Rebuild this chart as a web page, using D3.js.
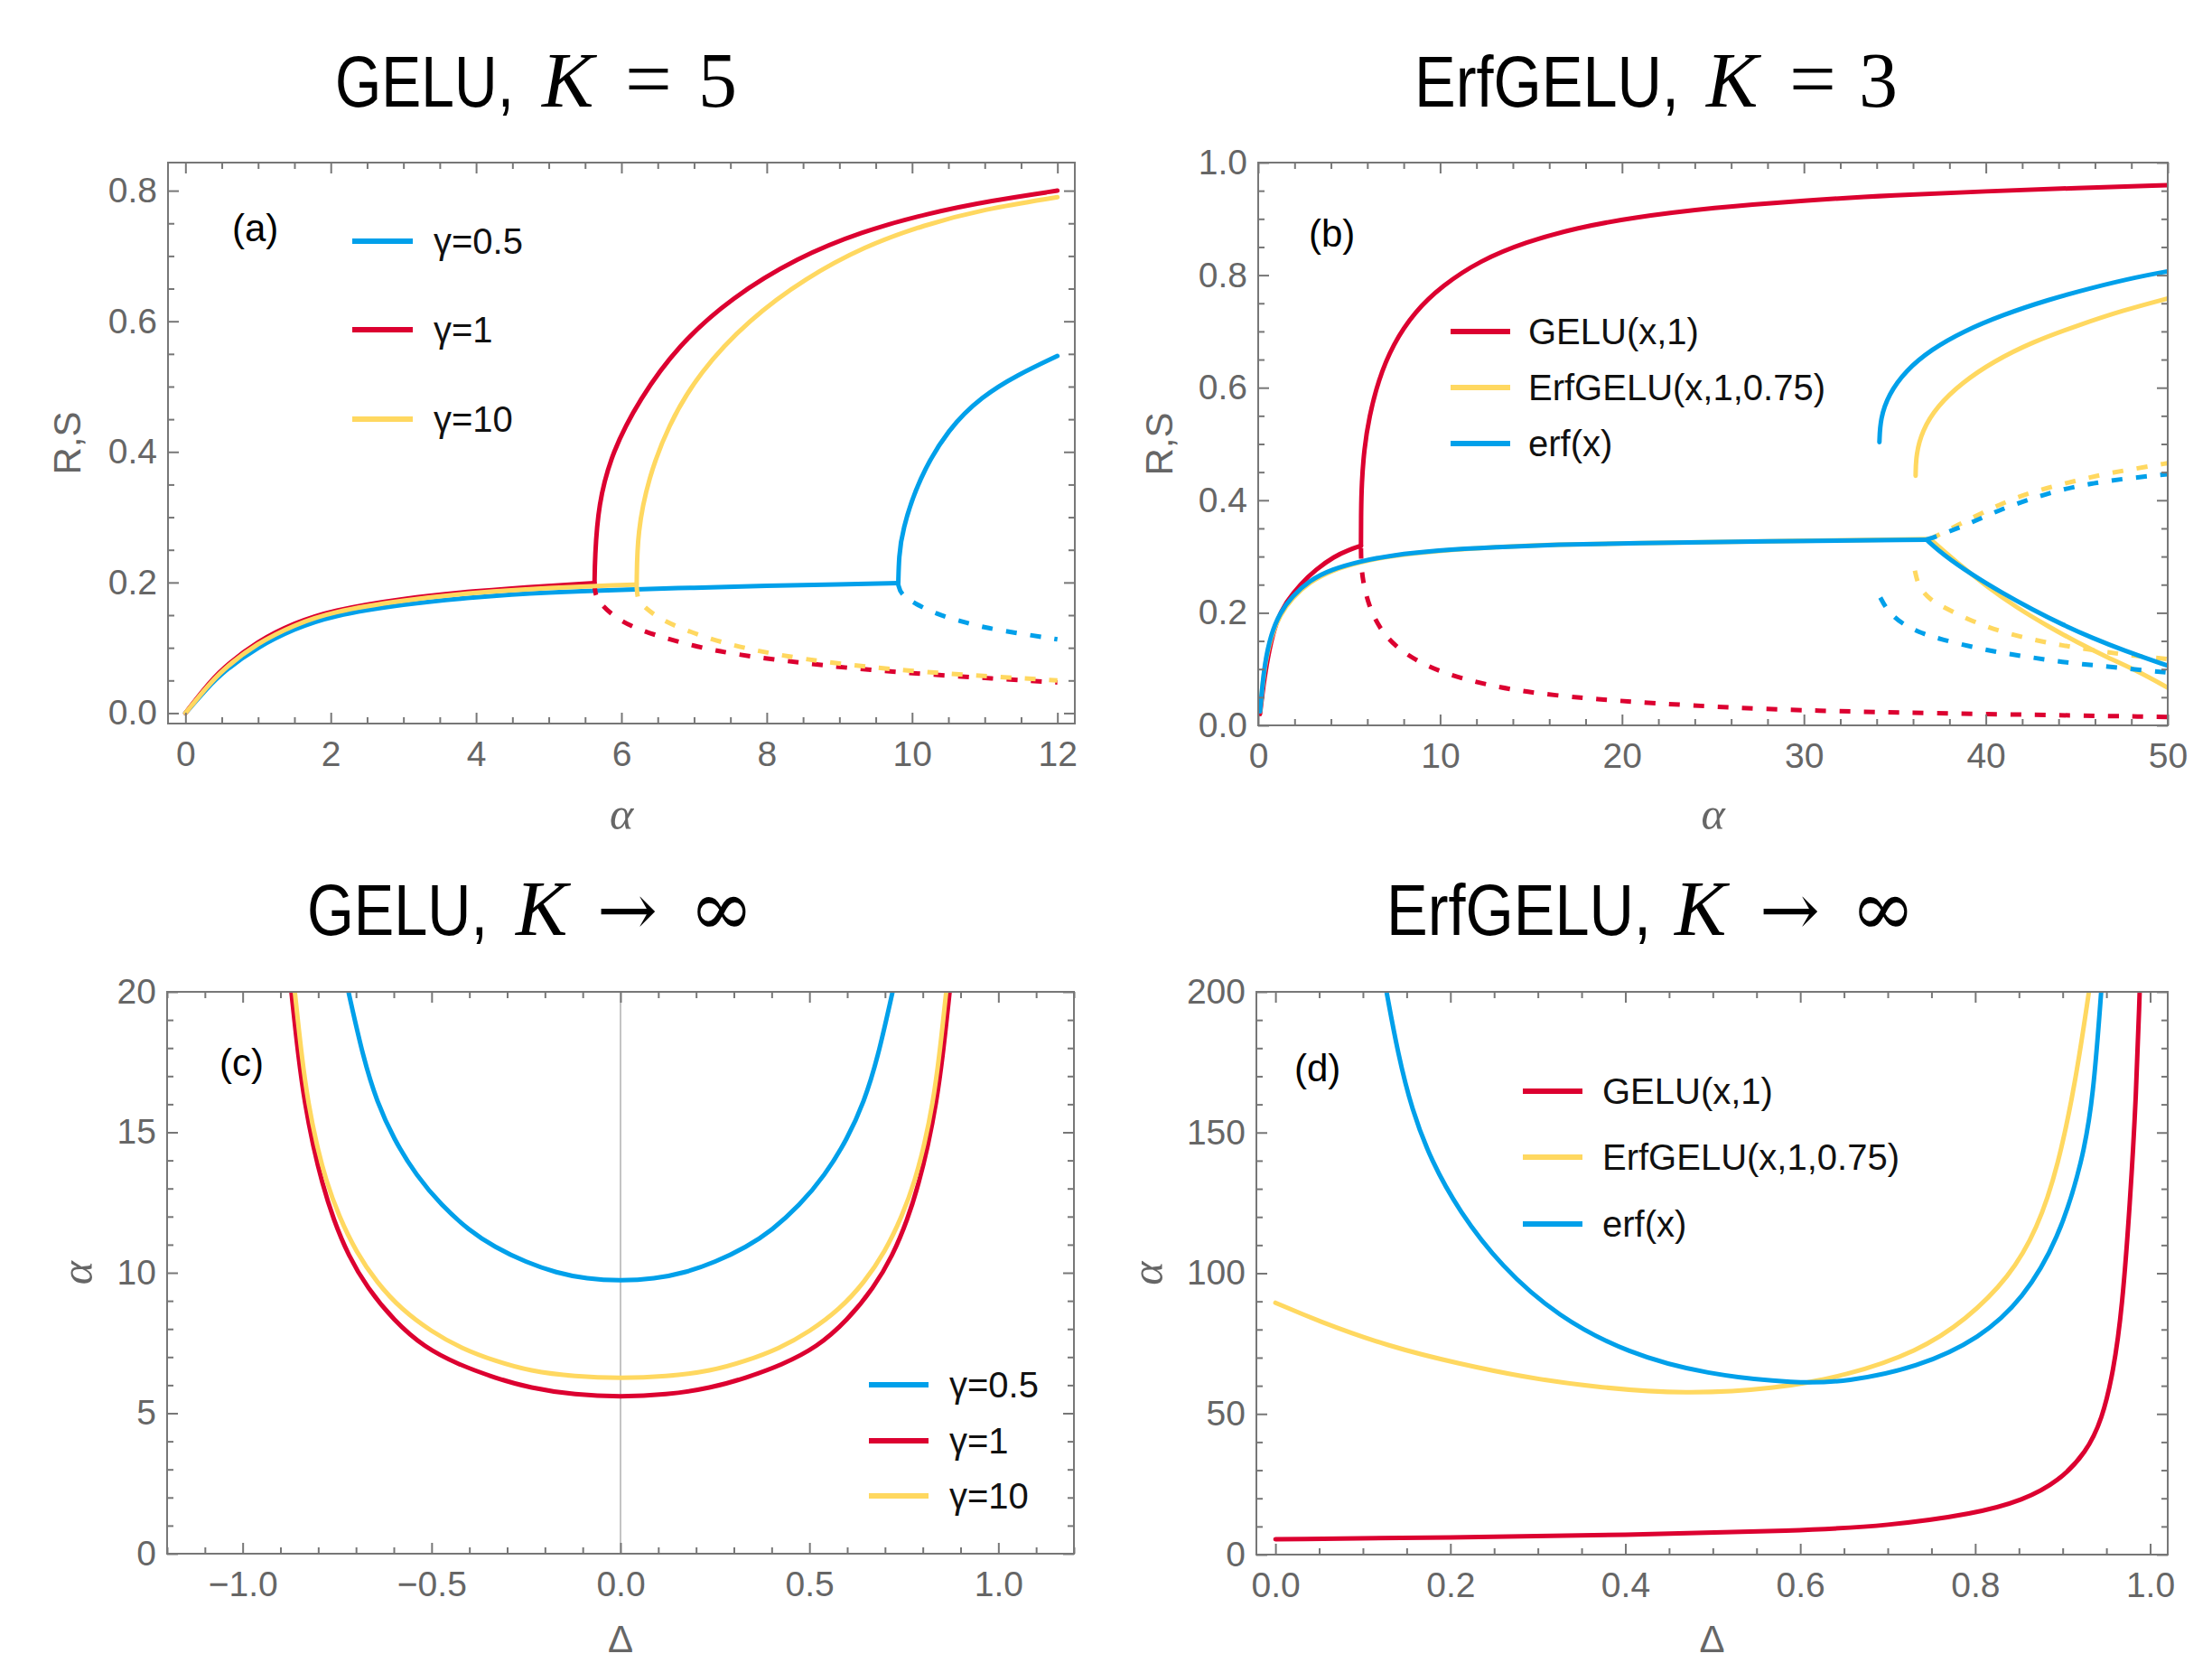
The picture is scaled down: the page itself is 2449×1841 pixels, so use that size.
<!DOCTYPE html>
<html>
<head>
<meta charset="utf-8">
<script src="https://cdn.jsdelivr.net/npm/d3@7"></script>
<style>
body { margin: 0; background: #fff; }
svg { display: block; background: #fff; }
.tick text { font-family: "Liberation Sans", Arial, sans-serif; font-size: 39px; fill: #666; }
.tick line { stroke: #777; stroke-width: 2; }
</style>
</head>
<body>
<svg id="fig" width="2449" height="1841"></svg>
<script>

// ---- colours
const cBlue = "#00a0ea", cRed = "#dc0030", cYellow = "#ffd860";

// ---- legend labels
const gammaLabels = ["γ=0.5", "γ=1", "γ=10"];
const actLabels = ["GELU(x,1)", "ErfGELU(x,1,0.75)", "erf(x)"];

// ---- tick values
const aXTicks = [0, 2, 4, 6, 8, 10, 12];
const aYTicks = [0, 0.2, 0.4, 0.6, 0.8];
const bXTicks = [0, 10, 20, 30, 40, 50];
const bYTicks = [0, 0.2, 0.4, 0.6, 0.8, 1.0];
const cXTicks = [-1, -0.5, 0, 0.5, 1];
const cYTicks = [0, 5, 10, 15, 20];
const dXTicks = [0, 0.2, 0.4, 0.6, 0.8, 1.0];
const dYTicks = [0, 50, 100, 150, 200];

// ---- (a) GELU, K=5 : [alpha, R]
const aBlueLow = [[0,0],[0.25,0.032],[0.5,0.062],[1,0.102],[1.5,0.129],[2,0.149],[3,0.167],[4,0.178],[5,0.185],[6,0.189],[7,0.192],[8,0.195],[9,0.197],[9.81,0.199]];
const aBlueUp = [[9.81,0.199],[9.82,0.24],[9.86,0.278],[10.09,0.359],[10.5,0.436],[10.96,0.485],[11.45,0.518],[12,0.547]];
const aBlueDash = [[9.81,0.197],[9.84,0.182],[10.05,0.167],[10.33,0.152],[10.67,0.1405],[11.0,0.131],[11.38,0.1235],[12,0.113]];
const aRedLow = [[0,0],[0.25,0.036],[0.5,0.068],[1,0.111],[1.5,0.138],[2,0.157],[3,0.176],[4,0.187],[5,0.195],[5.63,0.199]];
const aRedUp = [[5.63,0.199],[5.635,0.237],[5.68,0.319],[5.87,0.40],[6.25,0.481],[6.78,0.563],[7.51,0.636],[8.43,0.698],[9.3,0.737],[10.2,0.765],[11.1,0.785],[12,0.80]];
const aRedDash = [[5.63,0.197],[5.64,0.182],[5.69,0.17],[5.9,0.147],[6.19,0.13],[6.52,0.1175],[7.05,0.101],[7.57,0.09],[8.24,0.08],[9.19,0.068],[10.14,0.06],[11.1,0.053],[12,0.047]];
const aYellowLow = [[0,0],[0.25,0.034],[0.5,0.066],[1,0.108],[1.5,0.135],[2,0.155],[3,0.173],[4,0.185],[5,0.192],[6,0.196],[6.21,0.197]];
const aYellowUp = [[6.21,0.197],[6.22,0.278],[6.37,0.359],[6.64,0.44],[7.07,0.522],[7.76,0.603],[8.53,0.666],[9.35,0.715],[10.15,0.747],[11.0,0.772],[12,0.79]];
const aYellowDash = [[6.21,0.195],[6.22,0.174],[6.29,0.165],[6.52,0.144],[6.9,0.126],[7.43,0.106],[8.14,0.089],[8.95,0.076],[9.9,0.065],[11.1,0.056],[12,0.05]];

// ---- (b) ErfGELU, K=3 : [alpha, R]
const bRedLow = [[0.1,0.02],[0.3,0.075],[0.6,0.135],[1.0,0.185],[1.52,0.219],[2.35,0.252],[3.17,0.277],[4.17,0.30],[5.0,0.312],[5.65,0.319]];
const bRedUp = [[5.65,0.319],[5.655,0.38],[5.69,0.43],[5.82,0.49],[6.1,0.548],[6.6,0.613],[7.4,0.677],[8.6,0.735],[10.1,0.781],[12.2,0.826],[14.7,0.859],[17.5,0.884],[20.5,0.902],[25,0.92],[30,0.933],[35,0.942],[40,0.949],[45,0.955],[50,0.96]];
const bRedDash = [[5.65,0.315],[5.66,0.29],[5.74,0.258],[6.07,0.213],[6.64,0.174],[7.47,0.142],[8.63,0.116],[10.1,0.0935],[12.26,0.074],[14.7,0.059],[18.0,0.048],[20.5,0.042],[25,0.033],[30,0.026],[40,0.02],[50,0.015]];
const bYellowLow = [[0.1,0.025],[0.2,0.058],[0.36,0.106],[0.69,0.157],[1.19,0.196],[1.85,0.226],[2.84,0.255],[4.0,0.275],[5.65,0.291],[7.3,0.301],[9.79,0.31],[13.1,0.317],[16.4,0.321],[20.5,0.324],[27.7,0.327],[36.94,0.331]];
const bYellowDown = [[36.94,0.331],[38.43,0.2887],[40.08,0.246],[41.73,0.2086],[43.39,0.1766],[45.04,0.1471],[46.7,0.1205],[48.36,0.0965],[50,0.067]];
const bYellowUp = [[36.14,0.4436],[36.16,0.481],[36.5,0.5237],[37.3,0.5664],[38.7,0.6092],[40.41,0.6465],[42.56,0.6813],[45.04,0.7106],[47.53,0.7374],[50,0.7587]];
const bYellowDashUp = [[36.94,0.331],[38.43,0.3554],[40.08,0.3822],[41.73,0.4062],[43.39,0.4222],[45.04,0.4355],[46.7,0.4478],[48.36,0.4569],[50,0.466]];
const bYellowDashLow = [[36.1,0.275],[36.3,0.245],[37.0,0.222],[37.6,0.2112],[39.25,0.1846],[40.9,0.1658],[42.56,0.1525],[44.2,0.1418],[45.87,0.1338],[47.53,0.1258],[50,0.1178]];
const bBlueLow = [[0.1,0.025],[0.2,0.06],[0.36,0.11],[0.69,0.161],[1.19,0.2],[1.85,0.229],[2.84,0.258],[4.0,0.277],[5.65,0.292],[7.3,0.302],[9.79,0.311],[13.1,0.317],[16.4,0.321],[20.5,0.324],[27.7,0.327],[36.74,0.33]];
const bBlueDown = [[36.74,0.33],[37.6,0.3047],[39.25,0.2673],[40.9,0.2353],[42.56,0.2059],[44.2,0.1791],[45.87,0.1551],[47.53,0.1338],[50,0.106]];
const bBlueUp = [[34.15,0.5034],[34.2,0.545],[34.65,0.588],[35.6,0.6305],[37.0,0.668],[38.75,0.70],[40.91,0.7293],[43.39,0.756],[45.87,0.778],[48.36,0.797],[50,0.8068]];
const bBlueDashUp = [[36.74,0.33],[37.6,0.3394],[39.25,0.3608],[40.9,0.3849],[42.56,0.4035],[44.2,0.4195],[45.87,0.4302],[47.53,0.4382],[50,0.4462]];
const bBlueDashLow = [[34.2,0.2272],[34.6,0.203],[35.4,0.18],[36.5,0.163],[37.6,0.1525],[39.25,0.1391],[40.9,0.1285],[42.56,0.1205],[44.2,0.1125],[45.87,0.107],[47.53,0.1017],[50,0.0937]];

// ---- (c) GELU, K -> inf : [Delta, alpha]
const cBlue_ = [[-0.72,20],[-0.68,17.6],[-0.645,16.1],[-0.6,14.75],[-0.54,13.45],[-0.474,12.4],[-0.4,11.5],[-0.334,10.92],[-0.25,10.37],[-0.17,10.0],[-0.09,9.78],[0,9.71],[0.09,9.78],[0.17,10.0],[0.25,10.37],[0.334,10.92],[0.4,11.5],[0.474,12.4],[0.54,13.45],[0.6,14.75],[0.645,16.1],[0.68,17.6],[0.72,20]];
const cRed_ = [[-0.871,20],[-0.852,17.6],[-0.835,16.0],[-0.815,14.6],[-0.79,13.2],[-0.76,11.9],[-0.72,10.6],[-0.67,9.46],[-0.6,8.3],[-0.52,7.35],[-0.427,6.72],[-0.33,6.25],[-0.24,5.9],[-0.12,5.65],[0,5.58],[0.12,5.65],[0.24,5.9],[0.33,6.25],[0.427,6.72],[0.52,7.35],[0.6,8.3],[0.67,9.46],[0.72,10.6],[0.76,11.9],[0.79,13.2],[0.815,14.6],[0.835,16.0],[0.852,17.6],[0.871,20]];
const cYellow_ = [[-0.862,20],[-0.843,17.6],[-0.826,16.0],[-0.805,14.6],[-0.78,13.3],[-0.745,12.0],[-0.7,10.75],[-0.645,9.65],[-0.58,8.7],[-0.5,7.9],[-0.42,7.3],[-0.33,6.85],[-0.24,6.5],[-0.12,6.3],[0,6.24],[0.12,6.3],[0.24,6.5],[0.33,6.85],[0.42,7.3],[0.5,7.9],[0.58,8.7],[0.645,9.65],[0.7,10.75],[0.745,12.0],[0.78,13.3],[0.805,14.6],[0.826,16.0],[0.843,17.6],[0.862,20]];

// ---- (d) ErfGELU, K -> inf : [Delta, alpha]
const dRed_ = [[0,5.48],[0.2,6.0],[0.4,7.0],[0.6,8.5],[0.7,10.2],[0.8,14.5],[0.855,19.3],[0.895,25.9],[0.927,36.3],[0.945,48],[0.958,65],[0.968,87.3],[0.977,125],[0.984,162.8],[0.988,200]];
const dYellow_ = [[0,89.5],[0.048,83.1],[0.129,74.0],[0.21,67.8],[0.29,62.7],[0.371,59.3],[0.468,57.0],[0.573,58.9],[0.653,63.6],[0.734,72.1],[0.79,83.5],[0.839,98.6],[0.871,115.6],[0.895,138.2],[0.915,168.5],[0.93,200]];
const dBlue_ = [[0.127,200],[0.14,178],[0.156,158],[0.178,140],[0.21,122],[0.258,102.4],[0.323,84.5],[0.403,71.5],[0.492,64.0],[0.597,60.8],[0.653,61.4],[0.734,66.5],[0.806,76.9],[0.855,91.0],[0.895,111.8],[0.923,140.1],[0.935,162.8],[0.944,200]];

const svg = d3.select("#fig");
const sans = "'Liberation Sans', Arial, sans-serif";
const serifIt = "'Liberation Serif', serif";

function minorTicks(dom, step, majors) {
    let lo = Math.ceil(dom[0] / step - 1e-9), hi = Math.floor(dom[1] / step + 1e-9);
    return d3.range(lo, hi + 1).map(i => i * step)
        .filter(v => !majors.some(m => Math.abs(m - v) < step / 10));
}

function panel(p) {
    let g = svg.append("g");
    let x = d3.scaleLinear().domain(p.xd).range([p.l, p.r]);
    let y = d3.scaleLinear().domain(p.yd).range([p.b, p.t]);

    // clip to the frame
    svg.append("clipPath").attr("id", "clip" + p.name)
        .append("rect").attr("x", p.l).attr("y", p.t)
        .attr("width", p.r - p.l).attr("height", p.b - p.t);

    if (p.zeroLine) {
        g.append("line")
            .attr("x1", x(0)).attr("x2", x(0)).attr("y1", p.t).attr("y2", p.b)
            .attr("stroke", "#b0b0b0").attr("stroke-width", 1.5);
    }

    let line = d3.line()
        .x(d => x(d[0])).y(d => y(d[1]))
        .curve(d3.curveBasis);

    p.series.forEach(s => {
        g.append("path")
            .attr("d", line(s.pts))
            .attr("fill", "none")
            .attr("stroke", s.color)
            .attr("stroke-width", 5)
            .attr("stroke-linecap", s.dash ? "butt" : "round")
            .attr("stroke-linejoin", "round")
            .attr("stroke-dasharray", s.dash ? "12 15" : null)
            .attr("clip-path", "url(#clip" + p.name + ")");
    });

    let xMinor = minorTicks(p.xd, p.xm, p.xt);
    let yMinor = minorTicks(p.yd, p.ym, p.yt);
    let noDomain = a => a.select(".domain").remove();

    // bottom
    g.append("g").attr("transform", `translate(0,${p.b})`)
        .call(d3.axisBottom(x).tickValues(p.xt).tickFormat(p.xf).tickSize(-12).tickPadding(19)).call(noDomain);
    g.append("g").attr("transform", `translate(0,${p.b})`)
        .call(d3.axisBottom(x).tickValues(xMinor).tickFormat("").tickSize(-7)).call(noDomain);
    // top
    g.append("g").attr("transform", `translate(0,${p.t})`)
        .call(d3.axisTop(x).tickValues(p.xt).tickFormat("").tickSize(-12)).call(noDomain);
    g.append("g").attr("transform", `translate(0,${p.t})`)
        .call(d3.axisTop(x).tickValues(xMinor).tickFormat("").tickSize(-7)).call(noDomain);
    // left
    g.append("g").attr("transform", `translate(${p.l},0)`)
        .call(d3.axisLeft(y).tickValues(p.yt).tickFormat(p.yf).tickSize(-12).tickPadding(12)).call(noDomain);
    g.append("g").attr("transform", `translate(${p.l},0)`)
        .call(d3.axisLeft(y).tickValues(yMinor).tickFormat("").tickSize(-7)).call(noDomain);
    // right
    g.append("g").attr("transform", `translate(${p.r},0)`)
        .call(d3.axisRight(y).tickValues(p.yt).tickFormat("").tickSize(-12)).call(noDomain);
    g.append("g").attr("transform", `translate(${p.r},0)`)
        .call(d3.axisRight(y).tickValues(yMinor).tickFormat("").tickSize(-7)).call(noDomain);

    // frame
    g.append("rect")
        .attr("x", p.l).attr("y", p.t)
        .attr("width", p.r - p.l).attr("height", p.b - p.t)
        .attr("fill", "none").attr("stroke", "#777").attr("stroke-width", 2);

    // panel letter
    g.append("text").text(p.letter)
        .attr("x", p.lx).attr("y", p.ly)
        .attr("dy", "0.35em")
        .style("font-family", sans).style("font-size", "42px").attr("fill", "#000");

    // legend
    p.legend.forEach((e, i) => {
        let yy = p.leg.ys[i];
        g.append("line")
            .attr("x1", p.leg.x1).attr("x2", p.leg.x2).attr("y1", yy).attr("y2", yy)
            .attr("stroke", e.color).attr("stroke-width", 6);
        g.append("text").text(e.label)
            .attr("x", p.leg.tx).attr("y", yy).attr("dy", "0.35em")
            .style("font-family", sans).style("font-size", "40px").attr("fill", "#111");
    });

    // axis labels
    g.append("text").text(p.xlab)
        .attr("x", (p.r + p.l) / 2).attr("y", p.xlabY)
        .attr("text-anchor", "middle")
        .style("font-family", p.xlabFont).style("font-style", p.xlabStyle).style("font-size", p.xlabSize)
        .attr("fill", "#666");
    g.append("text").text(p.ylab)
        .attr("transform", `translate(${p.ylabX},${(p.t + p.b) / 2}) rotate(-90)`)
        .attr("text-anchor", "middle")
        .style("font-family", p.ylabFont).style("font-style", p.ylabStyle).style("font-size", p.ylabSize)
        .attr("fill", "#666");
}

// title: sans word squeezed to the measured width, math parts in serif
function title(y, parts) {
    parts.forEach(pt => {
        let t = svg.append("text").text(pt.t).attr("fill", "#000").style("font-size", pt.size + "px");
        if (pt.f === "sans") {
            t.style("font-family", sans);
            let k = pt.w / t.node().getComputedTextLength();
            t.attr("transform", `translate(${pt.x},${y}) scale(${k},1)`);
            return;
        }
        t.attr("x", pt.x).attr("y", y);
        if (pt.f === "it") {
            t.style("font-family", serifIt).style("font-style", "italic");
        } else if (pt.f === "sym") {
            t.style("font-family", "'DejaVu Serif', serif");
        } else {
            t.style("font-family", "'Liberation Serif', serif");
        }
    });
}

panel({
    name: "a", l: 186, r: 1190, t: 180, b: 801,
    xd: [-0.24, 12.24], yd: [-0.016, 0.843],
    xt: aXTicks, yt: aYTicks, xm: 0.5, ym: 0.05,
    xf: d3.format("d"), yf: d3.format(".1f"),
    series: [
        {pts: aBlueLow, color: cBlue}, {pts: aBlueUp, color: cBlue}, {pts: aBlueDash, color: cBlue, dash: true},
        {pts: aRedLow, color: cRed}, {pts: aRedUp, color: cRed}, {pts: aRedDash, color: cRed, dash: true},
        {pts: aYellowLow, color: cYellow}, {pts: aYellowUp, color: cYellow}, {pts: aYellowDash, color: cYellow, dash: true}
    ],
    letter: "(a)", lx: 257, ly: 252,
    legend: [{label: gammaLabels[0], color: cBlue}, {label: gammaLabels[1], color: cRed}, {label: gammaLabels[2], color: cYellow}],
    leg: {x1: 390, x2: 457, tx: 480, ys: [267, 365, 464]},
    xlab: "α", xlabY: 918, xlabFont: serifIt, xlabStyle: "italic", xlabSize: "50px",
    ylab: "R,S", ylabX: 89, ylabFont: sans, ylabStyle: "normal", ylabSize: "42px"
});

panel({
    name: "b", l: 1393, r: 2400, t: 180, b: 803,
    xd: [0, 50], yd: [0, 1],
    xt: bXTicks, yt: bYTicks, xm: 2, ym: 0.05,
    xf: d3.format("d"), yf: d3.format(".1f"),
    series: [
        {pts: bRedLow, color: cRed}, {pts: bRedUp, color: cRed}, {pts: bRedDash, color: cRed, dash: true},
        {pts: bYellowLow, color: cYellow}, {pts: bYellowDown, color: cYellow}, {pts: bYellowUp, color: cYellow},
        {pts: bYellowDashUp, color: cYellow, dash: true}, {pts: bYellowDashLow, color: cYellow, dash: true},
        {pts: bBlueLow, color: cBlue}, {pts: bBlueDown, color: cBlue}, {pts: bBlueUp, color: cBlue},
        {pts: bBlueDashUp, color: cBlue, dash: true}, {pts: bBlueDashLow, color: cBlue, dash: true}
    ],
    letter: "(b)", lx: 1449, ly: 258,
    legend: [{label: actLabels[0], color: cRed}, {label: actLabels[1], color: cYellow}, {label: actLabels[2], color: cBlue}],
    leg: {x1: 1606, x2: 1672, tx: 1692, ys: [367, 429, 491]},
    xlab: "α", xlabY: 918, xlabFont: serifIt, xlabStyle: "italic", xlabSize: "50px",
    ylab: "R,S", ylabX: 1298, ylabFont: sans, ylabStyle: "normal", ylabSize: "42px"
});

panel({
    name: "c", l: 185, r: 1189, t: 1098, b: 1720,
    xd: [-1.2, 1.2], yd: [0, 20],
    xt: cXTicks, yt: cYTicks, xm: 0.1, ym: 1,
    xf: d3.format(".1f"), yf: d3.format("d"),
    zeroLine: true,
    series: [
        {pts: cBlue_, color: cBlue}, {pts: cRed_, color: cRed}, {pts: cYellow_, color: cYellow}
    ],
    letter: "(c)", lx: 243, ly: 1176,
    legend: [{label: gammaLabels[0], color: cBlue}, {label: gammaLabels[1], color: cRed}, {label: gammaLabels[2], color: cYellow}],
    leg: {x1: 962, x2: 1028, tx: 1051, ys: [1533, 1595, 1656]},
    xlab: "Δ", xlabY: 1829, xlabFont: sans, xlabStyle: "normal", xlabSize: "42px",
    ylab: "α", ylabX: 102, ylabFont: serifIt, ylabStyle: "italic", ylabSize: "50px"
});

panel({
    name: "d", l: 1391, r: 2400, t: 1098, b: 1721,
    xd: [-0.0218, 1.0201], yd: [0, 200],
    xt: dXTicks, yt: dYTicks, xm: 0.05, ym: 10,
    xf: d3.format(".1f"), yf: d3.format("d"),
    series: [
        {pts: dRed_, color: cRed}, {pts: dYellow_, color: cYellow}, {pts: dBlue_, color: cBlue}
    ],
    letter: "(d)", lx: 1433, ly: 1182,
    legend: [{label: actLabels[0], color: cRed}, {label: actLabels[1], color: cYellow}, {label: actLabels[2], color: cBlue}],
    leg: {x1: 1686, x2: 1752, tx: 1774, ys: [1208, 1281, 1355]},
    xlab: "Δ", xlabY: 1829, xlabFont: sans, xlabStyle: "normal", xlabSize: "42px",
    ylab: "α", ylabX: 1287, ylabFont: serifIt, ylabStyle: "italic", ylabSize: "50px"
});

// titles
title(118, [
    {t: "GELU,", x: 371, f: "sans", size: 80, w: 198},
    {t: "K", x: 600, f: "it", size: 86},
    {t: "=", x: 692, f: "rm", size: 92},
    {t: "5", x: 773, f: "rm", size: 86}
]);
title(118, [
    {t: "ErfGELU,", x: 1566, f: "sans", size: 80, w: 293},
    {t: "K", x: 1889, f: "it", size: 86},
    {t: "=", x: 1981, f: "rm", size: 92},
    {t: "3", x: 2058, f: "rm", size: 86}
]);
title(1035, [
    {t: "GELU,", x: 340, f: "sans", size: 80, w: 200},
    {t: "K", x: 571, f: "it", size: 86},
    {t: "→", x: 661, f: "sym", size: 80},
    {t: "∞", x: 763, f: "sym", size: 86}
]);
title(1035, [
    {t: "ErfGELU,", x: 1535, f: "sans", size: 80, w: 293},
    {t: "K", x: 1854, f: "it", size: 86},
    {t: "→", x: 1948, f: "sym", size: 80},
    {t: "∞", x: 2049, f: "sym", size: 86}
]);

</script>
</body>
</html>
